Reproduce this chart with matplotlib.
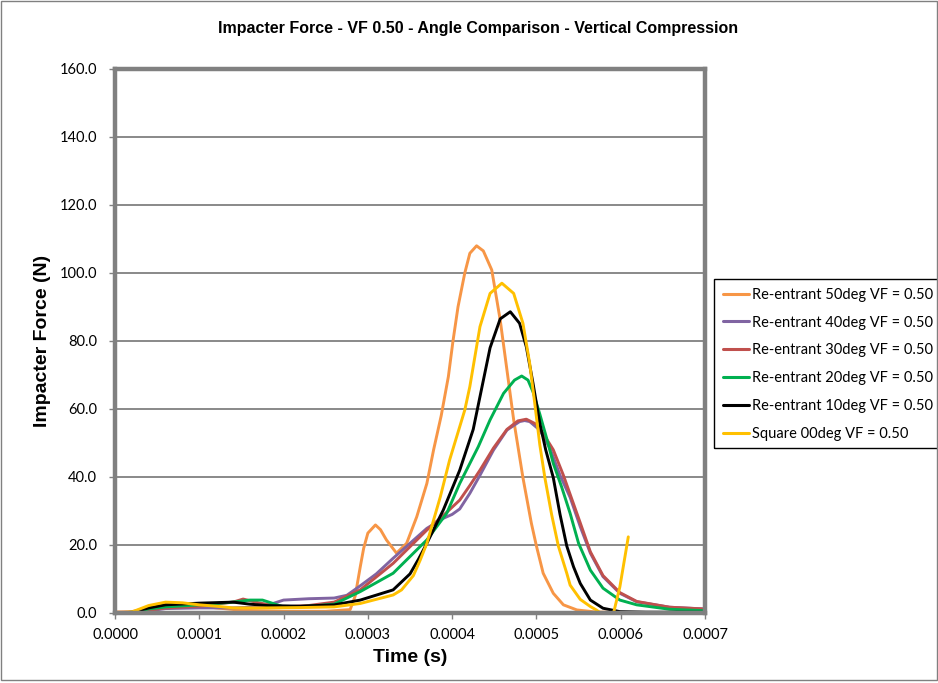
import matplotlib
matplotlib.use('Agg')
import matplotlib.pyplot as plt
from matplotlib.patches import Rectangle

plt.rcParams['font.family'] = ['Liberation Sans', 'DejaVu Sans']

# Re-entrant 50deg
t50 = [0, 0.00002, 0.00004, 0.00006, 0.00008, 0.0001, 0.00012, 0.00015, 0.0002, 0.00025,
       0.000279, 0.000285, 0.000291, 0.000295, 0.0003, 0.000309, 0.000315, 0.000322, 0.000334,
       0.000346, 0.000358, 0.00037, 0.000378, 0.000387, 0.0003955, 0.000401, 0.000407,
       0.000415, 0.000421, 0.000429, 0.000437, 0.000447, 0.000457, 0.000465, 0.000473,
       0.000484, 0.000494, 0.0005, 0.000508, 0.00052, 0.000532, 0.000548, 0.00057, 0.0006]
f50 = [0.3, 0.4, 1.5, 2.6, 2.8, 2.2, 1.5, 0.8, 0.5, 0.5,
       1.0, 5.0, 13.6, 19.0, 23.5, 25.9, 24.5, 21.5, 17.6,
       20.5, 28.3, 38.1, 48.0, 58.0, 69.5, 80.0, 90.1,
       100.0, 105.8, 108.0, 106.5, 100.9, 86.2, 71.5, 56.8,
       39.8, 26.4, 19.7, 11.7, 5.8, 2.4, 0.9, 0.3, 0.2]

# Re-entrant 40deg
t40 = [0, 0.00002, 0.00004, 0.00006, 0.0001, 0.00014, 0.000175, 0.0002, 0.00023, 0.00026,
       0.000275, 0.000291, 0.00031, 0.00033, 0.00037, 0.00039, 0.0004, 0.000409, 0.000421,
       0.000433, 0.000449, 0.000465, 0.00048, 0.000486, 0.000492, 0.000504, 0.000516,
       0.000528, 0.00054, 0.000552, 0.000564, 0.000579, 0.000599, 0.000619, 0.000658,
       0.000698]
f40 = [0, 0.1, 0.6, 1.3, 1.5, 1.5, 1.8, 3.8, 4.2, 4.4,
       5.2, 8.0, 11.5, 16.1, 24.9, 27.9, 29.0, 30.6, 35.2,
       40.5, 47.9, 53.8, 56.3, 56.6, 56.3, 53.8, 48.5,
       40.5, 34.0, 25.4, 17.6, 10.7, 5.8, 3.3, 1.7,
       1.2]

# Re-entrant 30deg
t30 = [0, 0.00002, 0.00004, 0.00006, 0.0001, 0.00014, 0.000152, 0.000172, 0.0002, 0.00023,
       0.00026, 0.000291, 0.00033, 0.00037, 0.00039, 0.000409, 0.000421, 0.000433, 0.000449,
       0.000465, 0.000478, 0.000488, 0.0005, 0.00051, 0.00052, 0.000532, 0.000542, 0.000552,
       0.000564, 0.000579, 0.000599, 0.000619, 0.000658, 0.000698]
f30 = [0, 0.1, 0.8, 1.5, 2.0, 3.2, 4.1, 2.9, 1.8, 2.2,
       3.2, 6.8, 14.6, 24.4, 28.8, 33.2, 37.5, 42.0, 48.5,
       54.0, 56.5, 57.0, 55.5, 52.0, 48.0, 40.5, 33.5, 26.5,
       18.0, 11.0, 6.0, 3.4, 1.7, 1.2]

# Re-entrant 20deg
t20 = [0, 0.00002, 0.00004, 0.00006, 0.0001, 0.00014, 0.00016, 0.000175, 0.0002, 0.00023,
       0.00026, 0.000291, 0.00033, 0.00037, 0.0003935, 0.000409, 0.000431, 0.000445, 0.000461,
       0.000474, 0.0004825, 0.00049, 0.000496, 0.000504, 0.000512, 0.00052, 0.00053, 0.00054,
       0.00055, 0.000564, 0.000579, 0.000599, 0.000619, 0.000658, 0.000698]
f20 = [0, 0.2, 1.2, 1.8, 2.4, 3.2, 3.8, 3.8, 1.8, 2.0,
       2.6, 6.3, 11.7, 21.5, 29.3, 38.1, 48.9, 56.8, 64.6,
       68.5, 69.7, 68.5, 65.0, 58.5, 51.5, 44.0, 37.0, 29.3,
       20.5, 12.6, 7.3, 3.8, 2.4, 1.1, 0.7]

# Re-entrant 10deg
t10 = [0, 0.00002, 0.00004, 0.00006, 0.0001, 0.00014, 0.00016, 0.00018, 0.00022, 0.00026,
       0.000291, 0.00033, 0.00035, 0.00036, 0.00037, 0.0003895, 0.000409, 0.000425, 0.000435,
       0.000445, 0.000457, 0.000469, 0.00048, 0.000488, 0.000496, 0.000504, 0.000511, 0.00052,
       0.000528, 0.000536, 0.000544, 0.000552, 0.000564, 0.000579, 0.000599, 0.00063, 0.0007]
f10 = [0, 0.2, 1.5, 2.4, 2.9, 3.2, 2.6, 2.2, 2.0, 2.4,
       3.8, 6.8, 11.5, 15.8, 20.5, 30.3, 42.0, 54.0, 66.0,
       78.0, 86.5, 88.6, 85.2, 78.3, 67.5, 55.8, 48.0, 39.8,
       29.0, 19.7, 13.6, 8.7, 3.8, 1.4, 0.4, 0.25, 0.2]

# Square 00deg
t00 = [0, 0.00002, 0.00004, 0.00006, 0.00008, 0.0001, 0.00012, 0.00014, 0.00018, 0.00022,
       0.00026, 0.000291, 0.00033, 0.00034, 0.000354, 0.000362, 0.00037, 0.000386, 0.000397,
       0.000409, 0.000415, 0.000421, 0.000433, 0.000445, 0.000459, 0.000473, 0.000484,
       0.000492, 0.000498, 0.000504, 0.00051, 0.000518, 0.000526, 0.000536, 0.00054,
       0.000552, 0.000564, 0.000571, 0.000579, 0.000591, 0.000599, 0.000609]
f00 = [0, 0.3, 2.2, 3.2, 3.0, 2.4, 2.0, 1.5, 1.5, 1.6,
       1.8, 2.8, 5.3, 6.8, 11.0, 15.5, 20.5, 34.2, 45.0,
       54.8, 59.7, 66.6, 84.2, 94.0, 97.0, 94.0, 85.2,
       73.4, 61.7, 49.5, 39.8, 29.0, 19.7, 11.7, 8.2,
       4.0, 1.9, 0.9, -0.5, -0.5, 7.7, 22.4]

labels = ['Re-entrant 50deg VF = 0.50', 'Re-entrant 40deg VF = 0.50',
          'Re-entrant 30deg VF = 0.50', 'Re-entrant 20deg VF = 0.50',
          'Re-entrant 10deg VF = 0.50', 'Square 00deg VF = 0.50']
colors = ['#F79646', '#8064A2', '#C0504D', '#00B050', '#000000', '#FFC000']
series = [(t50, f50), (t40, f40), (t30, f30), (t20, f20), (t10, f10), (t00, f00)]

fig = plt.figure(figsize=(9.38, 6.83), dpi=100)
ax = fig.add_axes([115 / 938, 70 / 683, 590 / 938, 544 / 683])

for (t, f), lab, c in zip(series, labels, colors):
    ax.plot(t, f, color=c, lw=2.1, label=lab, solid_joinstyle='round', solid_capstyle='round')

ax.set_xlim(0, 0.0007)
ax.set_ylim(0, 160)
ax.set_xticks([i * 0.0001 for i in range(8)])
ax.set_xticklabels(['%.4f' % (i * 0.0001) for i in range(8)], family=['Lato', 'DejaVu Sans'])
ax.set_yticks(range(0, 161, 20))
ax.set_yticklabels(['%.1f' % v for v in range(0, 161, 20)], family=['Lato', 'DejaVu Sans'])
ax.tick_params(labelsize=10.5, color='#808080', length=4, width=1)
ax.tick_params(axis='y', pad=9)
ax.tick_params(axis='x', pad=7)
ax.yaxis.grid(True, color='#808080', lw=1.3)
ax.set_axisbelow(True)
for s in ax.spines.values():
    s.set_color('#808080')
    s.set_linewidth(3.2)

ax.set_xlabel('Time (s)', fontsize=14, fontweight='bold', labelpad=5)
ax.set_ylabel('Impacter Force (N)', fontsize=14, fontweight='bold', labelpad=6)
fig.text(478 / 938, 1 - 29 / 683, 'Impacter Force - VF 0.50 - Angle Comparison - Vertical Compression',
         ha='center', va='center', fontsize=11.5, fontweight='bold')

leg = ax.legend(loc='upper left', bbox_to_anchor=(714 / 938, 1 - 279 / 683),
                bbox_transform=fig.transFigure, frameon=False,
                handlelength=1.8, handletextpad=0.2,
                labelspacing=0.95, borderaxespad=0, borderpad=0.6,
                prop={'family': ['Lato', 'DejaVu Sans'], 'size': 10.5})
for h in leg.get_lines():
    h.set_linewidth(2.2)

# legend box runs past the right edge of the figure
fig.patches.append(Rectangle((714 / 938, 1 - 448 / 683), 240 / 938, 169 / 683,
                             transform=fig.transFigure, fill=False, edgecolor='black', lw=1))
fig.patches.append(Rectangle((0.001, 0.004), 0.998, 0.995, transform=fig.transFigure,
                             fill=False, edgecolor='#808080', lw=1))

fig.savefig('out.png', dpi=100)
